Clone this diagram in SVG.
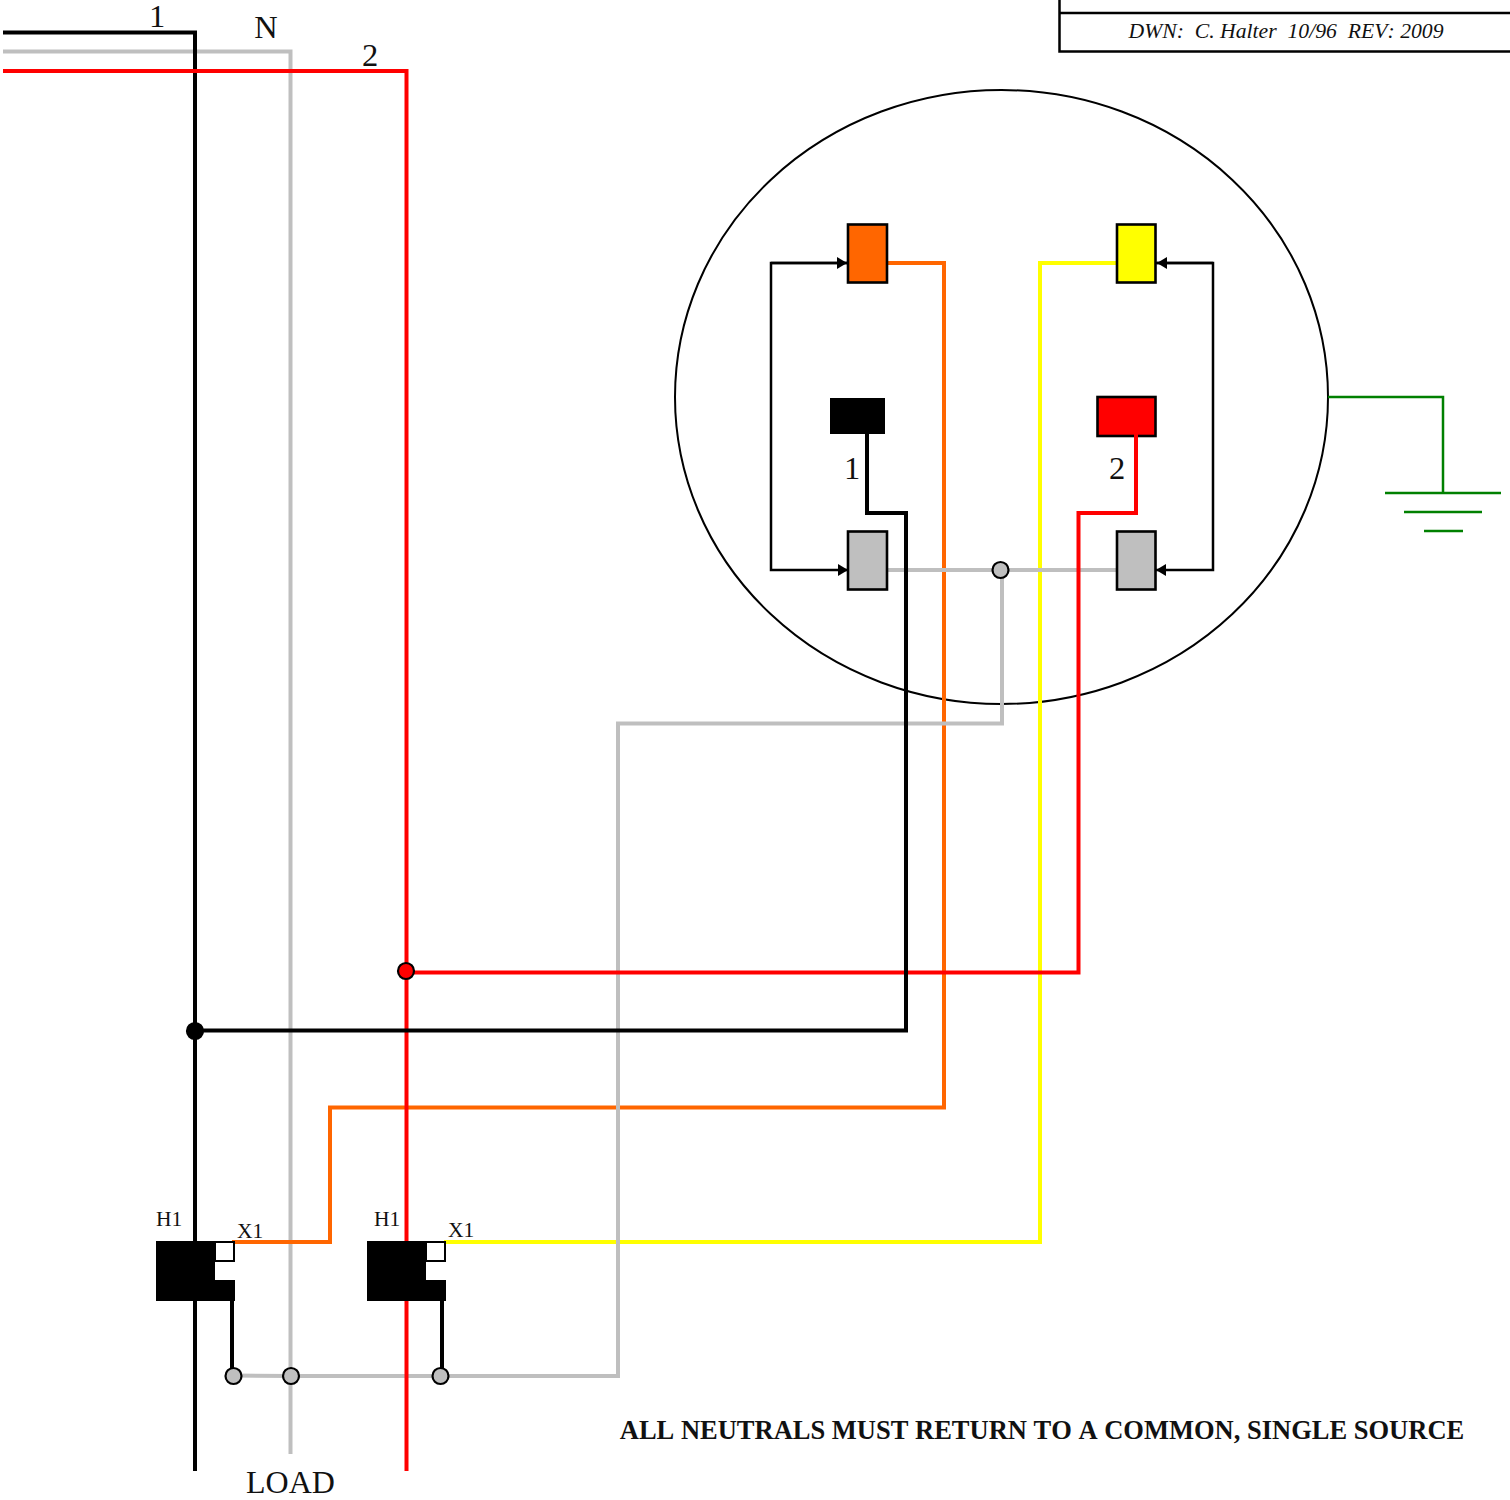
<svg xmlns="http://www.w3.org/2000/svg" width="1510" height="1500" viewBox="0 0 1510 1500">
<style>
text{font-family:"Liberation Serif","Times New Roman",serif;fill:#111;font-kerning:none}
.w{fill:none;stroke-width:4;stroke-linecap:square;stroke-linejoin:miter}
.k{stroke:#000}.g{stroke:#bfbfbf}.r{stroke:#f00}.o{stroke:#f60}.y{stroke:#ff0}
.t{stroke:#000;stroke-width:2.6}
.e{fill:none;stroke:#008000;stroke-width:2.5}
.j{stroke:#000;stroke-width:2.2}
.lbl{font-size:32.5px}.sm{font-size:21.5px}
.thin{fill:none;stroke:#000;stroke-width:2.5}
</style>
<defs><marker id="a" markerUnits="userSpaceOnUse" markerWidth="11" markerHeight="12" refX="10" refY="6" orient="auto"><path d="M0,0L10,6L0,12Z" fill="#000"/></marker></defs>
<g id="title-block">
<path d="M1059.500,0V51.500H1510M1059.500,13H1510" fill="none" stroke="#000" stroke-width="2.500"/>
<text x="1286" y="38" text-anchor="middle" font-size="21.700" font-style="italic" xml:space="preserve">DWN:  C. Halter  10/96  REV: 2009</text>
</g>
<g id="meter-circle"><ellipse cx="1001.500" cy="397" rx="326.500" ry="307" fill="none" stroke="#000" stroke-width="2"/></g>
<g id="connectors">
<path class="w g" d="M5,51.500H290.500V1452"/>
<path class="w o" d="M234,1242H330V1107.500H944V263H888"/>
<path class="w y" d="M446,1242H1040V263H1116"/>
<path class="w g" d="M234,1375.500L291,1376H618V723.500H1002V570M888,570H1116"/>
<path class="w k" d="M5,32.500H195V1469"/>
<path class="w r" d="M5,71H406.500V1469"/>
<path class="w r" d="M406,972.500H1078.500V513H1136V436"/>
<path class="w k" d="M195,1030.500H906V513H867V434"/>
<path class="w k" d="M232,1300V1375M442,1300V1375"/>
<path class="thin" d="M848,263H771V570H848" marker-end="url(#a)"/>
<path class="thin" d="M771,263H847" marker-end="url(#a)"/>
<path class="thin" d="M1156,263H1213V570H1156" marker-end="url(#a)"/>
<path class="thin" d="M1213,263H1157" marker-end="url(#a)"/>
<path class="e" d="M1328,397H1443V493M1385,493H1501M1404,512H1482M1424,531H1463"/>
</g>
<g id="terminal-orange"><rect x="848" y="224.500" width="39" height="58" fill="#f60" class="t"/></g>
<g id="terminal-yellow"><rect x="1117" y="224.500" width="38.500" height="58" fill="#ff0" class="t"/></g>
<g id="terminal-black"><rect x="830" y="398" width="55" height="36" fill="#000"/><text class="lbl" x="852" y="479" text-anchor="middle">1</text></g>
<g id="terminal-red"><rect x="1097.500" y="397" width="58" height="39" fill="#f00" stroke="#000" stroke-width="2.600"/><path class="w r" d="M1136,436V438"/><text class="lbl" x="1117" y="479" text-anchor="middle">2</text></g>
<g id="terminal-gray-left"><rect x="848" y="531.500" width="39" height="58" fill="#bfbfbf" class="t"/></g>
<g id="terminal-gray-right"><rect x="1117" y="531.500" width="38.500" height="58" fill="#bfbfbf" class="t"/></g>
<g id="ct-1"><path d="M156,1241H215V1280H235V1301H156Z" fill="#000"/><rect x="215" y="1242" width="19" height="19" fill="#fff" stroke="#000" stroke-width="2"/><text class="sm" x="156" y="1226">H1</text><text class="sm" x="237" y="1238">X1</text></g>
<g id="ct-2"><path d="M367,1241H426V1280H446V1301H367Z" fill="#000"/><rect x="426" y="1242" width="19" height="19" fill="#fff" stroke="#000" stroke-width="2"/><text class="sm" x="374" y="1226">H1</text><text class="sm" x="448" y="1237">X1</text></g>
<g id="junctions">
<circle cx="195" cy="1031" r="8" fill="#000" class="j"/>
<circle cx="406" cy="971" r="8" fill="#f00" class="j"/>
<circle cx="1000.500" cy="570" r="8" fill="#bfbfbf" class="j"/>
<circle cx="233.500" cy="1376" r="8" fill="#bfbfbf" class="j"/>
<circle cx="291" cy="1376" r="8" fill="#bfbfbf" class="j"/>
<circle cx="440.500" cy="1376" r="8" fill="#bfbfbf" class="j"/>
</g>
<g id="labels">
<text class="lbl" x="157" y="27" text-anchor="middle">1</text>
<text class="lbl" x="266" y="38" text-anchor="middle">N</text>
<text class="lbl" x="370" y="66" text-anchor="middle">2</text>
<text x="290.500" y="1492.500" text-anchor="middle" font-size="32">LOAD</text>
<text x="1042" y="1439" text-anchor="middle" font-size="26.500" font-weight="bold">ALL NEUTRALS MUST RETURN TO A COMMON, SINGLE SOURCE</text>
</g>
</svg>
